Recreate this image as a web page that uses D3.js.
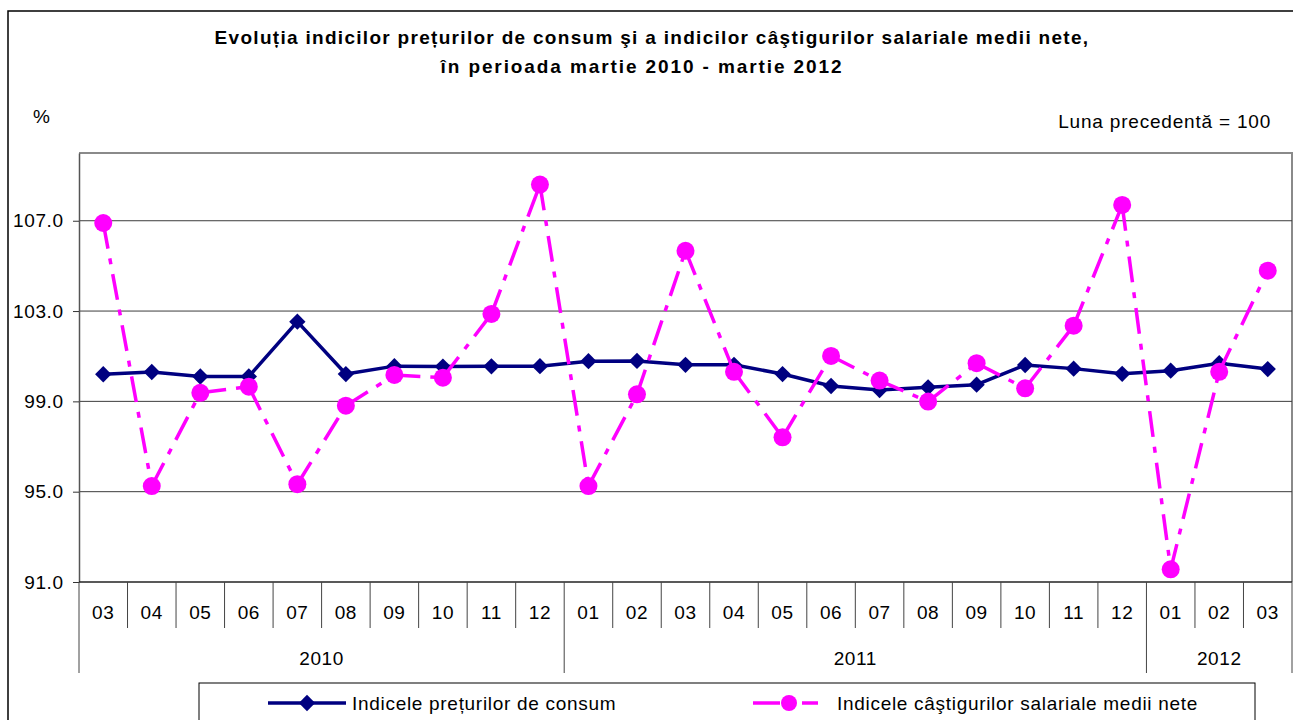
<!DOCTYPE html>
<html>
<head>
<meta charset="utf-8">
<script src="https://cdn.jsdelivr.net/npm/d3@7"></script>
<style>
    body { margin: 0; background: #fff; }
    text { font-family: "Liberation Sans", Arial, sans-serif; fill: #000; }
    .lbl { font-size: 19px; letter-spacing: 0.6px; }
</style>
</head>
<body>
<div id="chart"></div>
<script>
var months = ["03","04","05","06","07","08","09","10","11","12",
              "01","02","03","04","05","06","07","08","09","10","11","12",
              "01","02","03"];
var years = ["2010", "2011", "2012"];
var yearStarts = [0, 10, 22];
var cpi = [100.2, 100.3, 100.1, 100.1, 102.53, 100.21, 100.56, 100.54, 100.55, 100.56,
           100.78, 100.79, 100.62, 100.62, 100.21, 99.68, 99.5, 99.62, 99.74, 100.61, 100.45, 100.22,
           100.36, 100.69, 100.43];
var wages = [106.9, 95.25, 99.38, 99.65, 95.33, 98.81, 100.17, 100.05, 102.87, 108.6,
             95.25, 99.31, 105.67, 100.31, 97.41, 101.01, 99.92, 98.99, 100.69, 99.58, 102.35, 107.7,
             91.56, 100.31, 104.79];
var yTicks = [91, 95, 99, 103, 107];
var seriesNames = ["Indicele prețurilor de consum", "Indicele câştigurilor salariale medii nete"];

var width = 1293, height = 720,
    plot = {left: 79, right: 1292, top: 153, bottom: 582},
    navy = "#000080", magenta = "#ff00ff";

var svg = d3.select("#chart").append("svg")
    .attr("width", width)
    .attr("height", height);

svg.append("rect")
    .attr("width", width).attr("height", height)
    .attr("fill", "#fff");

// outer frame of the chart (cut off on the right and bottom)
svg.append("rect")
    .attr("x", 8).attr("y", 11)
    .attr("width", 1320).attr("height", 740)
    .attr("fill", "none").attr("stroke", "#000").attr("stroke-width", 1.5);

/*
 * Titles
 */
svg.append("text")
    .attr("x", 652).attr("y", 44)
    .attr("text-anchor", "middle")
    .style("font-size", "19px").style("font-weight", "bold")
    .style("letter-spacing", "1.3px")
    .text("Evoluția indicilor prețurilor de consum şi a indicilor câştigurilor salariale medii nete,");

svg.append("text")
    .attr("x", 642).attr("y", 73)
    .attr("text-anchor", "middle")
    .style("font-size", "19px").style("font-weight", "bold")
    .style("letter-spacing", "1.9px")
    .text("în perioada martie 2010 - martie 2012");

svg.append("text")
    .attr("class", "lbl")
    .attr("x", 33).attr("y", 123)
    .text("%");

svg.append("text")
    .attr("class", "lbl")
    .attr("x", 1271).attr("y", 128)
    .attr("text-anchor", "end")
    .style("letter-spacing", "0.8px")
    .text("Luna precedentă = 100");

/*
 * Scales
 */
var x = d3.scaleBand()
    .domain(d3.range(months.length))
    .range([plot.left, plot.right]);

var y = d3.scaleLinear()
    .domain([91, 110])
    .range([plot.bottom, plot.top]);

var cx = function(i) { return x(i) + x.bandwidth() / 2; };

// plot border
svg.append("path")
    .attr("d", "M" + plot.left + "," + plot.top + "H" + plot.right + "V" + plot.bottom)
    .attr("fill", "none").attr("stroke", "#8a8a8a").attr("stroke-width", 2);

// gridlines
svg.append("g").selectAll("line")
    .data(yTicks.slice(1))
    .enter().append("line")
    .attr("x1", plot.left).attr("x2", plot.right)
    .attr("y1", function(d) { return y(d); })
    .attr("y2", function(d) { return y(d); })
    .attr("stroke", "#3c3c3c").attr("stroke-width", 1);

// y axis
var yAxis = svg.append("g")
    .attr("transform", "translate(" + plot.left + ",0)")
    .call(d3.axisLeft(y).tickValues(yTicks).tickSizeInner(6).tickSizeOuter(0)
        .tickPadding(10).tickFormat(d3.format(".1f")));

yAxis.select(".domain").attr("stroke", "#555").attr("stroke-width", 1.5);
yAxis.selectAll(".tick line").attr("stroke", "#333");
yAxis.selectAll(".tick text")
    .attr("class", "lbl")
    .attr("dx", "0.6px")
    .style("font-family", "'Liberation Sans', Arial, sans-serif")
    .attr("fill", "#000");

/*
 * Category axis: months and years
 */
var bounds = d3.range(months.length + 1).map(function(i) {
    return i < months.length ? x(i) : plot.right;
});

svg.append("line")
    .attr("x1", plot.left).attr("x2", plot.right)
    .attr("y1", plot.bottom).attr("y2", plot.bottom)
    .attr("stroke", "#222").attr("stroke-width", 1.5);

svg.append("g").selectAll("line")
    .data(bounds)
    .enter().append("line")
    .attr("x1", function(d) { return d; })
    .attr("x2", function(d) { return d; })
    .attr("y1", plot.bottom)
    .attr("y2", function(d, i) {
        return (yearStarts.indexOf(i) > -1 || i === months.length) ? 673 : 628;
    })
    .attr("stroke", "#444").attr("stroke-width", 1);

svg.append("g").selectAll("text")
    .data(months)
    .enter().append("text")
    .attr("class", "lbl")
    .attr("x", function(d, i) { return cx(i); })
    .attr("y", 619)
    .attr("text-anchor", "middle")
    .text(function(d) { return d; });

svg.append("g").selectAll("text")
    .data(years)
    .enter().append("text")
    .attr("class", "lbl")
    .attr("x", function(d, k) {
        var a = bounds[yearStarts[k]],
            b = bounds[k + 1 < yearStarts.length ? yearStarts[k + 1] : months.length];
        return (a + b) / 2;
    })
    .attr("y", 665)
    .attr("text-anchor", "middle")
    .text(function(d) { return d; });

/*
 * Series
 */
var line = d3.line()
    .x(function(d) { return cx(d.i); })
    .y(function(d) { return y(d.v); });

var cpiData = cpi.map(function(v, i) { return {i: i, v: v}; });
var wageData = wages.map(function(v, i) { return {i: i, v: v}; });

var diamond = d3.symbol().type(d3.symbolDiamond2).size(170);

svg.append("path")
    .datum(cpiData)
    .attr("d", line)
    .attr("fill", "none")
    .attr("stroke", navy).attr("stroke-width", 3.5)
    .attr("stroke-linejoin", "round");

svg.append("g").selectAll("path")
    .data(cpiData)
    .enter().append("path")
    .attr("transform", function(d) { return "translate(" + cx(d.i) + "," + y(d.v) + ")"; })
    .attr("d", diamond)
    .attr("fill", navy);

// each segment restarts the dash pattern, as in the original
svg.append("g").selectAll("path")
    .data(d3.pairs(wageData))
    .enter().append("path")
    .attr("d", line)
    .attr("fill", "none")
    .attr("stroke", magenta).attr("stroke-width", 3.5)
    .attr("stroke-dasharray", "26,10,6,10");

svg.append("g").selectAll("circle")
    .data(wageData)
    .enter().append("circle")
    .attr("cx", function(d) { return cx(d.i); })
    .attr("cy", function(d) { return y(d.v); })
    .attr("r", 9)
    .attr("fill", magenta);

/*
 * Legend
 */
var legend = svg.append("g");

legend.append("rect")
    .attr("x", 199).attr("y", 683)
    .attr("width", 1056).attr("height", 60)
    .attr("fill", "#fff").attr("stroke", "#000").attr("stroke-width", 1);

legend.append("line")
    .attr("x1", 268).attr("x2", 346).attr("y1", 703).attr("y2", 703)
    .attr("stroke", navy).attr("stroke-width", 3.5);

legend.append("path")
    .attr("transform", "translate(307,703)")
    .attr("d", diamond)
    .attr("fill", navy);

legend.append("text")
    .attr("class", "lbl")
    .attr("x", 352).attr("y", 710)
    .style("letter-spacing", "0.7px")
    .text(seriesNames[0]);

legend.append("line")
    .attr("x1", 753).attr("x2", 829).attr("y1", 703).attr("y2", 703)
    .attr("stroke", magenta).attr("stroke-width", 3.5)
    .attr("stroke-dasharray", "27,22,16,16,12");

legend.append("circle")
    .attr("cx", 789).attr("cy", 703).attr("r", 8)
    .attr("fill", magenta);

legend.append("text")
    .attr("class", "lbl")
    .attr("x", 837).attr("y", 710)
    .style("letter-spacing", "0.7px")
    .text(seriesNames[1]);
</script>
</body>
</html>
